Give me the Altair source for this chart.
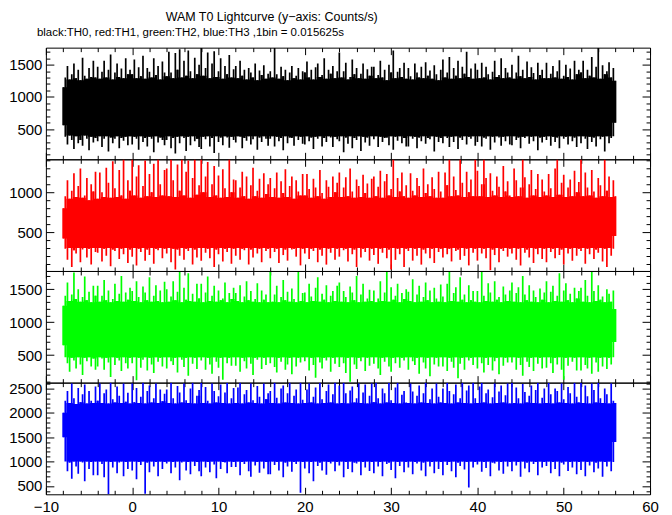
import altair as alt
import pandas as pd

X_LABELS = [-10, 0, 10, 20, 30, 40, 50, 60]
X_TICKS = list(range(-10, 61, 2))
T_START, T_STEP = -8.0, 0.25   # light curve samples every 0.25 s from -8 s

# TH0 (black): upper / lower extent of each 0.25 s sample
TH0_HI = [1150, 1300, 1480, 1270, 1350, 1520, 1290, 1420, 1260, 1610, 1330, 1280, 1450, 1310, 1560, 1300,
          1470, 1280, 1390, 1560, 1300, 1420, 1660, 1270, 1380, 1520, 1310, 1440, 1290, 1600, 1350, 1420,
          1350, 1580, 1290, 1460, 1320, 1640, 1280, 1450, 1390, 1300, 1600, 1340, 1480, 1270, 1550, 1380,
          1320, 1700, 1380, 1290, 1680, 1420, 1740, 1300, 1560, 1330, 1720, 1400, 1290, 1610, 1350, 1500,
          1760, 1330, 1450, 1690, 1290, 1520, 1710, 1310, 1400, 1600, 1280, 1480, 1350, 1650, 1300, 1430,
          1480, 1290, 1560, 1330, 1420, 1270, 1450, 1380, 1300, 1520, 1260, 1410, 1340, 1490, 1280, 1360,
          1400, 1300, 1760, 1350, 1280, 1470, 1320, 1420, 1260, 1380, 1480, 1290, 1330, 1450, 1270, 1400,
          1380, 1550, 1300, 1420, 1270, 1460, 1520, 1310, 1340, 1600, 1280, 1420, 1360, 1480, 1290, 1400,
          1690, 1300, 1400, 1530, 1270, 1310, 1580, 1350, 1450, 1290, 1360, 1520, 1280, 1430, 1330, 1470,
          1470, 1290, 1340, 1560, 1300, 1420, 1260, 1500, 1380, 1720, 1290, 1390, 1450, 1310, 1530, 1280,
          1450, 1320, 1270, 1520, 1380, 1300, 1470, 1290, 1540, 1330, 1410, 1280, 1490, 1350, 1260, 1420,
          1580, 1300, 1380, 1620, 1280, 1450, 1330, 1560, 1290, 1470, 1360, 1700, 1310, 1440, 1280, 1520,
          1420, 1290, 1530, 1300, 1470, 1350, 1270, 1390, 1560, 1310, 1340, 1600, 1290, 1450, 1380, 1300,
          1500, 1280, 1380, 1640, 1320, 1420, 1290, 1550, 1310, 1460, 1370, 1270, 1530, 1340, 1420, 1290,
          1530, 1290, 1360, 1480, 1300, 1400, 1570, 1280, 1330, 1500, 1310, 1440, 1270, 1560, 1350, 1420,
          1380, 1560, 1290, 1420, 1330, 1620, 1300, 1470, 1760, 1280, 1490, 1350, 1400, 1540, 1300, 1450,
          1250]
TH0_LO = [560, 380, 260, 400, 330, 190, 390, 280, 330, 240, 400, 350, 170, 380, 290, 360,
          310, 390, 220, 350, 390, 150, 370, 280, 350, 390, 200, 360, 320, 380, 250, 390,
          260, 380, 350, 180, 390, 300, 360, 230, 380, 350, 140, 390, 290, 370, 330, 250,
          330, 390, 200, 360, 120, 380, 280, 390, 360, 160, 380, 250, 390, 310, 350, 220,
          190, 380, 340, 390, 230, 360, 130, 390, 300, 370, 250, 390, 370, 210, 380, 330,
          290, 390, 380, 200, 360, 320, 390, 260, 340, 390, 180, 370, 300, 390, 350, 240,
          350, 390, 230, 380, 310, 360, 170, 390, 280, 370, 360, 240, 390, 330, 380, 270,
          260, 390, 310, 370, 190, 380, 350, 390, 230, 360, 300, 390, 370, 220, 380, 340,
          310, 390, 140, 370, 270, 390, 200, 360, 330, 390, 160, 380, 290, 370, 240, 390,
          340, 390, 220, 380, 300, 360, 370, 250, 390, 180, 380, 320, 390, 280, 360, 230,
          230, 390, 350, 380, 200, 370, 310, 390, 270, 360, 340, 390, 150, 380, 300, 360,
          280, 390, 360, 220, 380, 300, 390, 190, 370, 330, 390, 260, 380, 350, 390, 240,
          300, 390, 230, 370, 350, 390, 180, 380, 290, 390, 370, 240, 380, 310, 390, 260,
          250, 390, 330, 370, 200, 380, 360, 390, 270, 380, 310, 390, 170, 370, 290, 380,
          330, 390, 240, 380, 300, 370, 200, 390, 350, 380, 260, 390, 310, 370, 220, 390,
          280, 390, 350, 190, 380, 300, 370, 230, 390, 340, 380, 150, 390, 280, 360, 390,
          600]

# TH1 (red)
TH1_HI = [800, 950, 1150, 920, 1020, 1240, 940, 1080, 1300, 930, 960, 1180, 900, 1100, 1010, 1260,
          920, 1250, 1000, 940, 1310, 1120, 930, 1390, 1050, 940, 1280, 960, 1410, 920, 1150, 1020,
          1410, 960, 1200, 1340, 930, 1080, 1400, 950, 1230, 1000, 1360, 940, 1410, 1100, 960, 1280,
          1300, 950, 1410, 1150, 940, 1350, 1020, 1410, 960, 1260, 1400, 930, 1180, 1410, 970, 1090,
          1410, 1000, 1200, 1380, 940, 1100, 1330, 960, 1210, 930, 1290, 1050, 940, 1410, 1000, 1160,
          1150, 930, 1060, 1260, 950, 1200, 920, 1090, 1310, 950, 1020, 1170, 930, 1240, 980, 1100,
          1180, 940, 1050, 1250, 930, 1140, 990, 1290, 940, 1080, 1200, 920, 1150, 1010, 960, 1230,
          960, 1230, 1040, 930, 1170, 1060, 950, 1280, 990, 920, 1150, 1070, 940, 1200, 1000, 1120,
          1250, 940, 1060, 1190, 950, 1300, 1010, 930, 1160, 1080, 940, 1220, 990, 1110, 930, 1170,
          1200, 950, 1070, 1270, 930, 1140, 1230, 960, 1040, 1410, 940, 1180, 1010, 1250, 950, 1090,
          930, 1240, 1020, 960, 1180, 1080, 940, 1300, 990, 1100, 950, 1190, 1040, 930, 1260, 1010,
          930, 1250, 1090, 1410, 950, 1200, 1030, 960, 1410, 1120, 940, 1260, 1000, 1160, 950, 1410,
          1270, 950, 1100, 1410, 1180, 940, 1240, 1020, 960, 1200, 1070, 940, 1330, 1010, 1140, 960,
          940, 1300, 1150, 950, 1060, 1410, 1190, 930, 1100, 1280, 960, 1040, 1230, 940, 1160, 1010,
          960, 1230, 1050, 940, 1300, 1410, 970, 1120, 1220, 940, 1060, 1160, 950, 1270, 1000, 1130,
          1410, 950, 1250, 1060, 960, 1280, 1010, 930, 1180, 1090, 950, 1410, 1020, 1200, 940, 1150,
          950]
TH1_LO = [420, 290, 150, 300, 60, 270, 230, 300, 120, 280, 300, 180, 290, 90, 300, 250,
          240, 300, 130, 290, 200, 300, 70, 280, 260, 300, 160, 290, 220, 300, 110, 280,
          190, 300, 80, 290, 250, 300, 140, 280, 210, 300, 100, 290, 270, 300, 170, 290,
          230, 300, 120, 290, 30, 280, 200, 300, 150, 290, 260, 300, 90, 280, 180, 300,
          140, 300, 240, 290, 170, 300, 60, 280, 220, 300, 130, 290, 250, 300, 100, 290,
          200, 300, 150, 290, 270, 300, 90, 280, 180, 300, 230, 290, 120, 300, 260, 290,
          170, 300, 250, 290, 110, 300, 210, 280, 140, 300, 280, 290, 190, 300, 80, 290,
          230, 300, 160, 290, 260, 300, 120, 280, 200, 300, 90, 290, 240, 300, 150, 290,
          190, 300, 270, 290, 130, 300, 220, 280, 60, 300, 180, 290, 250, 300, 140, 290,
          210, 300, 100, 290, 240, 300, 170, 280, 30, 300, 150, 290, 220, 300, 60, 290,
          260, 300, 140, 290, 200, 300, 90, 280, 230, 300, 170, 290, 110, 300, 250, 290,
          180, 300, 220, 290, 130, 300, 260, 280, 150, 300, 200, 290, 80, 300, 240, 290,
          140, 300, 230, 290, 170, 300, 20, 280, 210, 300, 120, 290, 260, 300, 190, 290,
          230, 300, 150, 290, 80, 300, 240, 280, 180, 300, 110, 290, 220, 300, 160, 290,
          120, 300, 250, 290, 170, 300, 210, 280, 90, 300, 230, 290, 140, 300, 200, 290,
          260, 300, 100, 290, 220, 300, 160, 280, 240, 300, 130, 290, 60, 300, 200, 290,
          450]

# TH2 (green)
TH2_HI = [1250, 1400, 1600, 1320, 1420, 1750, 1350, 1500, 1310, 1380, 1690, 1330, 1460, 1300, 1550, 1400,
          1550, 1310, 1400, 1640, 1330, 1480, 1300, 1350, 1580, 1320, 1430, 1700, 1310, 1450, 1340, 1520,
          1470, 1320, 1620, 1380, 1300, 1540, 1450, 1330, 1680, 1310, 1400, 1560, 1320, 1480, 1300, 1610,
          1500, 1310, 1390, 1620, 1330, 1460, 1760, 1300, 1520, 1340, 1740, 1320, 1430, 1310, 1580, 1360,
          1580, 1300, 1450, 1690, 1320, 1400, 1550, 1310, 1480, 1330, 1360, 1600, 1300, 1440, 1350, 1520,
          1440, 1320, 1560, 1300, 1390, 1620, 1330, 1470, 1310, 1350, 1590, 1300, 1480, 1340, 1420, 1300,
          1760, 1310, 1420, 1550, 1300, 1380, 1640, 1330, 1460, 1310, 1510, 1350, 1300, 1760, 1320, 1440,
          1450, 1300, 1580, 1390, 1320, 1520, 1680, 1310, 1430, 1340, 1560, 1300, 1400, 1470, 1320, 1550,
          1600, 1310, 1470, 1380, 1300, 1540, 1450, 1330, 1700, 1300, 1420, 1580, 1310, 1360, 1490, 1320,
          1480, 1300, 1360, 1620, 1320, 1450, 1760, 1310, 1530, 1340, 1400, 1580, 1300, 1440, 1350, 1500,
          1460, 1320, 1650, 1300, 1420, 1550, 1310, 1380, 1600, 1330, 1480, 1300, 1520, 1360, 1310, 1570,
          1390, 1300, 1580, 1760, 1320, 1440, 1530, 1310, 1680, 1340, 1420, 1300, 1560, 1330, 1470, 1310,
          1470, 1300, 1760, 1400, 1320, 1590, 1450, 1310, 1620, 1340, 1380, 1300, 1540, 1420, 1320, 1480,
          1600, 1310, 1440, 1530, 1300, 1700, 1420, 1330, 1560, 1310, 1480, 1380, 1300, 1510, 1340, 1450,
          1620, 1300, 1460, 1550, 1320, 1400, 1740, 1310, 1480, 1590, 1330, 1430, 1300, 1520, 1360, 1470,
          1520, 1310, 1640, 1400, 1300, 1760, 1470, 1320, 1560, 1340, 1390, 1300, 1500, 1430, 1310, 1480,
          1200]
TH2_LO = [650, 470, 380, 250, 460, 420, 300, 470, 360, 200, 460, 410, 470, 330, 450, 280,
          330, 470, 450, 280, 460, 390, 170, 470, 350, 460, 420, 260, 470, 380, 300, 460,
          380, 470, 120, 460, 310, 430, 470, 270, 460, 360, 230, 470, 400, 460, 330, 470,
          300, 470, 410, 350, 460, 240, 470, 430, 320, 460, 190, 470, 370, 460, 290, 470,
          420, 470, 280, 460, 360, 220, 470, 400, 310, 460, 130, 470, 380, 460, 340, 470,
          340, 470, 250, 460, 410, 300, 470, 370, 200, 460, 430, 470, 290, 460, 350, 470,
          380, 470, 320, 240, 460, 400, 470, 280, 360, 460, 210, 470, 330, 460, 390, 470,
          410, 470, 270, 460, 350, 160, 470, 390, 300, 460, 420, 470, 250, 460, 370, 470,
          320, 470, 380, 230, 460, 100, 470, 360, 290, 460, 410, 470, 260, 460, 340, 470,
          370, 470, 300, 200, 460, 400, 470, 330, 250, 460, 380, 470, 310, 460, 420, 470,
          280, 470, 410, 350, 460, 220, 470, 390, 300, 460, 180, 470, 360, 460, 330, 470,
          330, 470, 260, 460, 400, 310, 470, 150, 370, 460, 280, 470, 420, 460, 350, 470,
          300, 470, 380, 240, 460, 350, 470, 270, 410, 460, 210, 470, 340, 460, 390, 470,
          390, 470, 280, 460, 350, 190, 470, 400, 320, 460, 260, 470, 370, 460, 300, 470,
          310, 470, 380, 230, 460, 360, 470, 280, 130, 460, 340, 470, 400, 460, 270, 470,
          270, 470, 350, 300, 460, 220, 470, 390, 250, 460, 330, 470, 290, 460, 360, 470,
          700]

# TH3 (blue)
TH3_HI = [2000, 2250, 2450, 2200, 2600, 2300, 2180, 2510, 2220, 2380, 2580, 2190, 2450, 2250, 2200, 2540,
          2250, 2600, 2200, 2400, 2480, 2190, 2620, 2280, 2210, 2540, 2350, 2200, 2600, 2230, 2410, 2190,
          2600, 2220, 2510, 2200, 2330, 2620, 2190, 2450, 2560, 2210, 2300, 2600, 2200, 2480, 2240, 2390,
          2480, 2200, 2620, 2300, 2190, 2550, 2420, 2210, 2600, 2260, 2200, 2500, 2620, 2190, 2350, 2470,
          2620, 2200, 2530, 2250, 2190, 2600, 2450, 2210, 2340, 2580, 2200, 2420, 2620, 2190, 2300, 2510,
          2200, 2520, 2620, 2190, 2380, 2470, 2210, 2600, 2260, 2200, 2550, 2330, 2190, 2600, 2280, 2400,
          2450, 2200, 2620, 2310, 2190, 2500, 2560, 2210, 2400, 2620, 2200, 2350, 2480, 2190, 2620, 2270,
          2200, 2480, 2600, 2210, 2330, 2520, 2190, 2620, 2280, 2200, 2450, 2580, 2210, 2380, 2620, 2190,
          2560, 2200, 2620, 2400, 2190, 2460, 2540, 2210, 2300, 2600, 2200, 2420, 2580, 2190, 2350, 2600,
          2220, 2620, 2300, 2190, 2500, 2400, 2210, 2620, 2260, 2200, 2520, 2620, 2190, 2370, 2450, 2210,
          2200, 2600, 2440, 2190, 2350, 2560, 2210, 2400, 2620, 2200, 2280, 2500, 2190, 2600, 2330, 2210,
          2500, 2200, 2620, 2450, 2190, 2380, 2580, 2210, 2300, 2620, 2200, 2460, 2560, 2190, 2620, 2300,
          2200, 2540, 2620, 2210, 2400, 2480, 2190, 2320, 2600, 2200, 2440, 2560, 2210, 2360, 2600, 2190,
          2620, 2200, 2520, 2300, 2190, 2590, 2430, 2210, 2350, 2560, 2200, 2470, 2620, 2190, 2310, 2500,
          2200, 2620, 2380, 2190, 2500, 2450, 2210, 2600, 2280, 2200, 2530, 2400, 2190, 2620, 2330, 2210,
          2620, 2200, 2560, 2340, 2190, 2600, 2470, 2210, 2620, 2300, 2200, 2500, 2380, 2190, 2600, 2250,
          2200]
TH3_LO = [1500, 1000, 800, 980, 650, 1000, 900, 750, 1000, 980, 600, 1000, 850, 990, 720, 1000,
          720, 1000, 950, 680, 1000, 330, 990, 880, 1000, 760, 980, 1000, 700, 990, 850, 1000,
          820, 1000, 640, 990, 930, 1000, 340, 980, 780, 1000, 900, 990, 700, 1000, 850, 990,
          960, 1000, 760, 990, 880, 1000, 620, 980, 1000, 820, 990, 740, 1000, 910, 990, 800,
          700, 1000, 880, 990, 780, 1000, 940, 660, 1000, 850, 990, 980, 760, 1000, 890, 990,
          890, 1000, 720, 990, 950, 1000, 800, 690, 1000, 920, 990, 770, 1000, 860, 990, 740,
          740, 1000, 930, 990, 820, 1000, 680, 980, 900, 1000, 790, 990, 950, 1000, 360, 990,
          860, 1000, 760, 990, 600, 1000, 910, 980, 820, 1000, 730, 990, 960, 1000, 800, 990,
          920, 1000, 680, 990, 850, 1000, 780, 980, 960, 1000, 720, 990, 880, 1000, 810, 990,
          760, 1000, 900, 990, 700, 1000, 950, 980, 830, 1000, 660, 990, 910, 1000, 780, 990,
          880, 1000, 740, 990, 960, 1000, 820, 980, 700, 1000, 900, 990, 760, 1000, 850, 990,
          720, 1000, 930, 990, 800, 1000, 680, 980, 910, 1000, 840, 990, 470, 1000, 880, 990,
          940, 1000, 790, 990, 870, 1000, 700, 980, 960, 1000, 820, 990, 750, 1000, 900, 990,
          800, 1000, 920, 990, 690, 1000, 860, 980, 780, 1000, 950, 990, 720, 1000, 880, 990,
          910, 1000, 760, 990, 850, 1000, 700, 980, 940, 1000, 810, 990, 880, 1000, 740, 990,
          830, 1000, 700, 990, 920, 1000, 780, 980, 860, 1000, 690, 990, 900, 1000, 800, 990,
          1400]

PANELS = [
    dict(hi=TH0_HI, lo=TH0_LO, color="#000000", dom=[30, 1765],
         labels=[500, 1000, 1500], ticks=list(range(100, 1701, 100))),
    dict(hi=TH1_HI, lo=TH1_LO, color="#ff0000", dom=[10, 1415],
         labels=[500, 1000], ticks=list(range(100, 1401, 100))),
    dict(hi=TH2_HI, lo=TH2_LO, color="#00ff00", dom=[85, 1775],
         labels=[500, 1000, 1500], ticks=list(range(100, 1701, 100))),
    dict(hi=TH3_HI, lo=TH3_LO, color="#0000ff", dom=[330, 2620],
         labels=[500, 1000, 1500, 2000, 2500], ticks=list(range(400, 2601, 100))),
]

W, H = 606, 112
FONT = "Liberation Sans"

TSIZE_X = {"condition": {"test": "datum.value % 10 === 0", "value": 7}, "value": 4}
TSIZE_Y = {"condition": {"test": "datum.value % 500 === 0", "value": 8}, "value": 4}


def tick_axis(values, orient, offset, tsize):
    return alt.Axis(values=values, orient=orient, offset=offset, labels=False,
                    domain=False, grid=False, ticks=True, tickSize=tsize,
                    tickColor="black", tickWidth=1, title=None)


def make_panel(p, first, last):
    n = min(len(p["hi"]), len(p["lo"]))
    df = pd.DataFrame({"t": [T_START + T_STEP * i for i in range(n)],
                       "hi": p["hi"][:n], "lo": p["lo"][:n]})
    # solid core of the light curve: the part covered by neighbouring samples
    df["core_hi"] = df["hi"].rolling(3, center=True, min_periods=1).min()
    df["core_lo"] = df["lo"].rolling(3, center=True, min_periods=1).max()
    xs = alt.Scale(domain=[-10, 60], nice=False, zero=False)
    ys = alt.Scale(domain=p["dom"], nice=False, zero=False)
    lab_y = alt.Axis(values=p["labels"], orient="left", ticks=False, tickSize=0,
                     domain=False, grid=False, labelPadding=4, minExtent=37,
                     maxExtent=37, title=None, labelFont=FONT, labelFontSize=15,
                     labelColor="black", format="d")
    if last:
        lab_x = alt.Axis(values=X_LABELS, orient="bottom", ticks=False, tickSize=0,
                         domain=False, grid=False, labelPadding=5, labelFlush=False,
                         title=None, labelFont=FONT, labelFontSize=15,
                         labelColor="black", format="d")
    else:
        lab_x = None
    base = alt.Chart(df)
    core = base.mark_area(color=p["color"], interpolate="step", clip=True).encode(
        x=alt.X("t:Q", scale=xs, axis=lab_x),
        y=alt.Y("core_hi:Q", scale=ys, axis=lab_y),
        y2="core_lo:Q",
    )
    spikes = base.mark_rule(color=p["color"], strokeWidth=1.7, clip=True).encode(
        x=alt.X("t:Q", scale=xs, axis=tick_axis(X_TICKS, "top", -H, TSIZE_X)),
        y=alt.Y("hi:Q", scale=ys, axis=tick_axis(p["ticks"], "right", -W, TSIZE_Y)),
        y2="lo:Q",
    )
    ghost = base.mark_rule(opacity=0, clip=True).encode(
        x=alt.X("t:Q", scale=xs, axis=tick_axis(X_TICKS, "bottom", -H, TSIZE_X)),
        y=alt.Y("hi:Q", scale=ys, axis=tick_axis(p["ticks"], "left", -W, TSIZE_Y)),
        y2="lo:Q",
    )
    props = dict(width=W, height=H)
    if first:
        props["title"] = alt.TitleParams(
            "black:TH0, red:TH1, green:TH2, blue:TH3 ,1bin = 0.015625s",
            anchor="start", frame="group", dx=-9, offset=9, fontSize=11.5,
            font=FONT, fontWeight="normal", color="black")
    return alt.layer(core, spikes, ghost).resolve_axis(
        x="independent", y="independent").properties(**props)


panels = [make_panel(p, i == 0, i == len(PANELS) - 1) for i, p in enumerate(PANELS)]

chart = alt.vconcat(*panels, spacing=0, bounds="flush").properties(
    title=alt.TitleParams("WAM T0 Lightcurve (y\u2212axis: Counts/s)", anchor="start",
                          frame="bounds", dx=158, offset=3, fontSize=12.5, font=FONT,
                          fontWeight="normal", color="black"),
    padding={"left": 0, "top": 2, "right": 5, "bottom": 0},
).configure_view(stroke="black", strokeWidth=1)

chart.save("out.html", embed_options={"renderer": "svg", "actions": False})
